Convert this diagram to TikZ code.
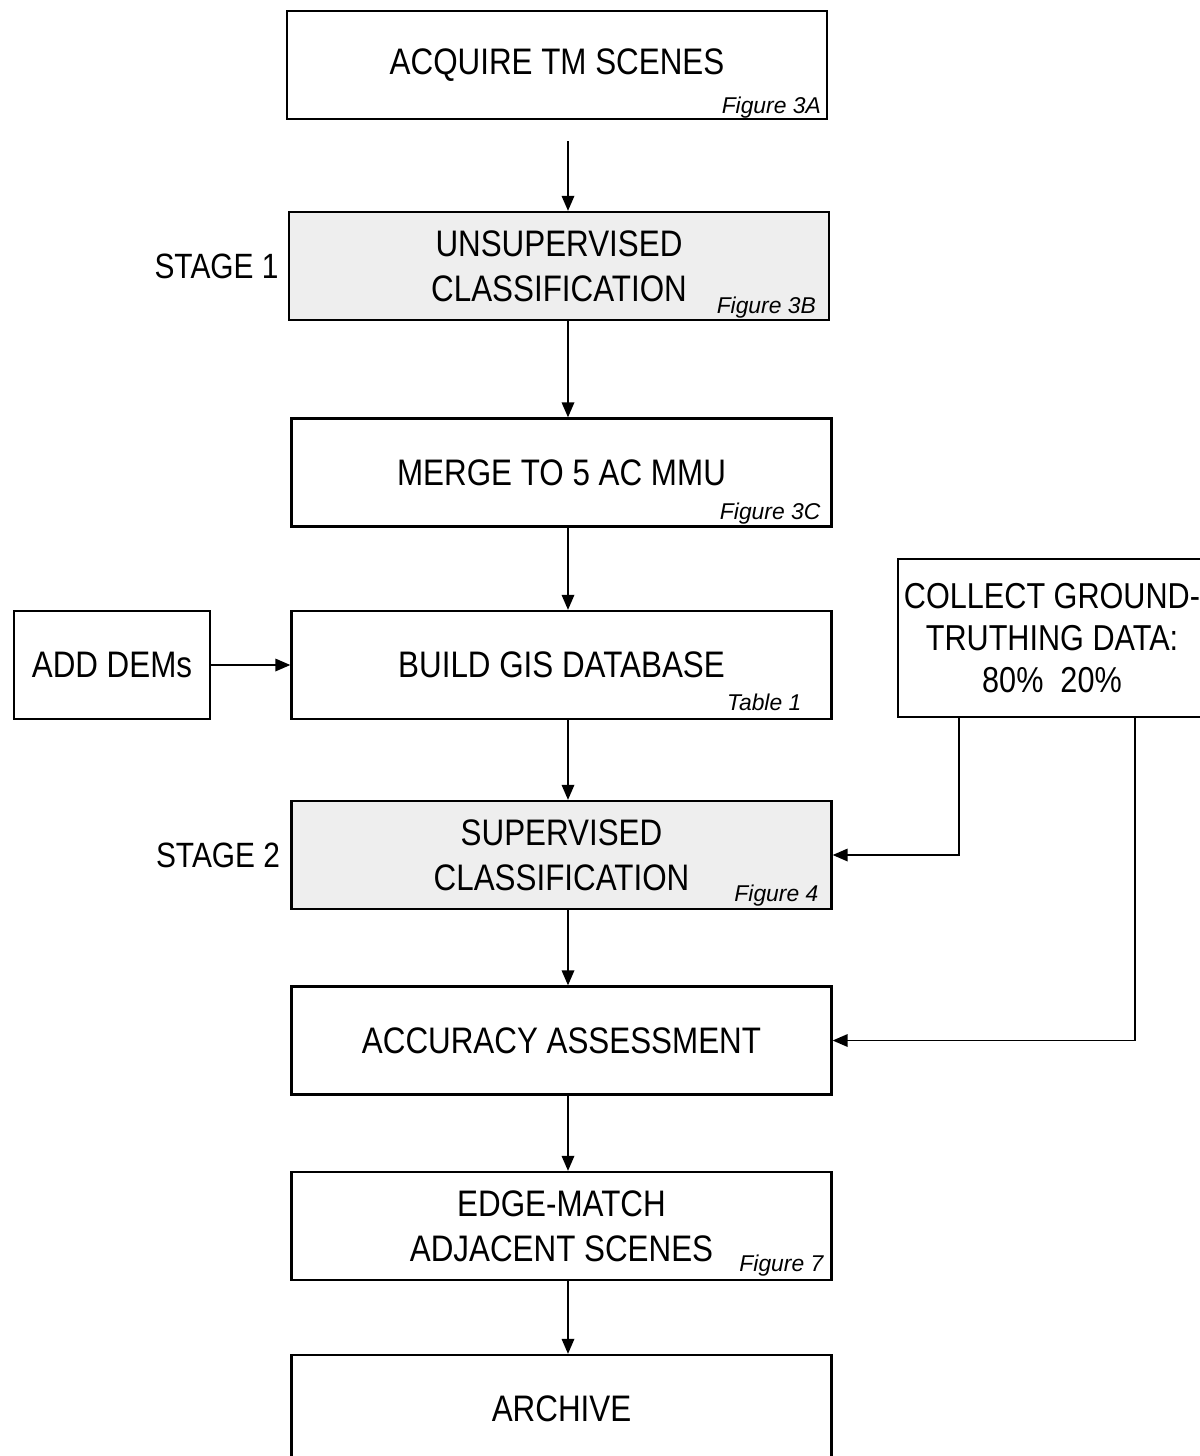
\documentclass[tikz,border=0pt]{standalone}
\usepackage{fontspec}
\setmainfont{Liberation Sans}[FakeStretch=0.85]
\newfontfamily\figfont{Liberation Sans}
\usepackage{tikz}
\usetikzlibrary{arrows.meta, positioning, calc}
\definecolor{grisTrame}{RGB}{238, 238, 238}
\begin{document}
\begin{tikzpicture}[
  box/.style={rectangle, draw=black, line width=1.3pt, fill=white,
    minimum width=10.8cm, minimum height=2.16cm,
    align=center, font=\fontsize{21}{25.5}\selectfont},
  shd/.style={box, fill=grisTrame},
  arr/.style={-{Triangle[length=3mm, width=2.5mm]}, line width=1pt},
  fig/.style={font=\figfont\itshape\fontsize{13}{15}\selectfont, inner sep=0pt},
  stg/.style={font=\fontsize{20}{24}\selectfont, inner sep=0pt},
]
\useasboundingbox (0,0) rectangle (23.98,-29.12);
% main column
\node[box] (acq) at (11.14, -1.30)  {ACQUIRE TM SCENES};
\node[shd] (uns) at (11.18, -5.32)  {UNSUPERVISED\\CLASSIFICATION};
\node[box] (mrg) at (11.23, -9.45)  {MERGE TO 5 AC MMU};
\node[box] (gis) at (11.23, -13.30) {BUILD GIS DATABASE};
\node[shd] (sup) at (11.23, -17.10) {SUPERVISED\\CLASSIFICATION};
\node[box] (acc) at (11.23, -20.81) {ACCURACY ASSESSMENT};
\node[box] (edg) at (11.23, -24.52) {EDGE-MATCH\\ADJACENT SCENES};
\node[box] (arc) at (11.23, -28.18) {ARCHIVE};
% side boxes
\node[box, minimum width=3.92cm] (dem) at (2.24, -13.30) {ADD DEMs};
\node[box, minimum width=6.0cm, minimum height=3.16cm,
  font=\fontsize{20.5}{24}\selectfont] (col) at (21.04, -12.76)
  {COLLECT GROUND-\\TRUTHING DATA:\\80\%\ \ 20\%};
% stage labels
\node[stg, left=0.18cm of uns] (stg1) {STAGE 1};
\node[stg, left=0.20cm of sup] (stg2) {STAGE 2};
% figure references
\node[fig, anchor=base east] (f3a) at ([xshift=-0.14cm, yshift=0.14cm]acq.south east) {Figure 3A};
\node[fig, anchor=base east] (f3b) at ([xshift=-0.28cm, yshift=0.16cm]uns.south east) {Figure 3B};
\node[fig, anchor=base east] (f3c) at ([xshift=-0.24cm, yshift=0.16cm]mrg.south east) {Figure 3C};
\node[fig, anchor=base east] (tb1) at ([xshift=-0.62cm, yshift=0.20cm]gis.south east) {Table 1};
\node[fig, anchor=base east] (fg4) at ([xshift=-0.28cm, yshift=0.18cm]sup.south east) {Figure 4};
\node[fig, anchor=base east] (fg7) at ([xshift=-0.18cm, yshift=0.20cm]edg.south east) {Figure 7};
% connectors
\coordinate (spine) at (11.36, 0);
\draw[arr] ($(acq.south -| spine)+(0,-0.42)$) -- (uns.north -| spine);
\draw[arr] (uns.south -| spine) -- (mrg.north -| spine);
\draw[arr] (mrg.south -| spine) -- (gis.north -| spine);
\draw[arr] (gis.south -| spine) -- (sup.north -| spine);
\draw[arr] (sup.south -| spine) -- (acc.north -| spine);
\draw[arr] (acc.south -| spine) -- (edg.north -| spine);
\draw[arr] (edg.south -| spine) -- (arc.north -| spine);
\draw[arr] (dem.east) -- (gis.west);
\draw[arr] ([xshift=-1.86cm]col.south) |- (sup.east);
\draw[arr] ([xshift=1.66cm]col.south) |- (acc.east);
\end{tikzpicture}
\end{document}
